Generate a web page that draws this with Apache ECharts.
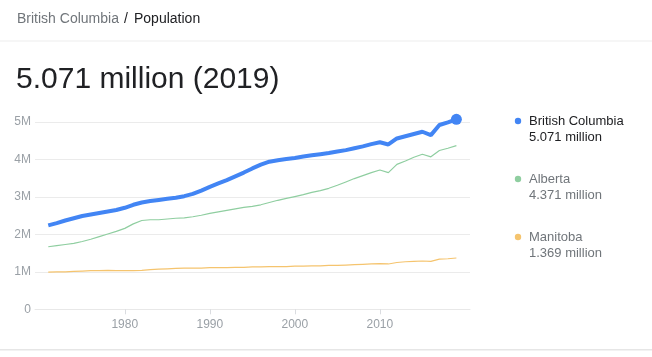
<!DOCTYPE html>
<html>
<head>
<meta charset="utf-8">
<script src="https://cdn.jsdelivr.net/npm/echarts@6/dist/echarts.min.js"></script>
<style>
html,body{margin:0;padding:0;background:#fff;}
#c{width:652px;height:357px;}
</style>
</head>
<body>
<div id="c"></div>
<script>
const years = [1971,1972,1973,1974,1975,1976,1977,1978,1979,1980,1981,1982,1983,1984,1985,1986,1987,1988,1989,1990,1991,1992,1993,1994,1995,1996,1997,1998,1999,2000,2001,2002,2003,2004,2005,2006,2007,2008,2009,2010,2011,2012,2013,2014,2015,2016,2017,2018,2019];
const britishColumbia = [2.24,2.30,2.37,2.43,2.49,2.53,2.57,2.61,2.65,2.71,2.79,2.85,2.89,2.92,2.95,2.98,3.02,3.08,3.17,3.27,3.36,3.45,3.55,3.65,3.76,3.86,3.94,3.98,4.01,4.04,4.08,4.11,4.14,4.17,4.21,4.25,4.30,4.35,4.41,4.46,4.40,4.56,4.62,4.68,4.74,4.65,4.92,4.99,5.071];
const alberta = [1.67,1.70,1.73,1.76,1.81,1.87,1.94,2.01,2.08,2.16,2.28,2.37,2.39,2.39,2.41,2.43,2.44,2.47,2.51,2.56,2.60,2.64,2.68,2.72,2.75,2.79,2.85,2.91,2.96,3.01,3.06,3.12,3.17,3.23,3.31,3.40,3.49,3.57,3.65,3.72,3.65,3.87,3.96,4.06,4.14,4.07,4.24,4.30,4.371];
const manitoba = [0.99,1.00,1.00,1.01,1.02,1.03,1.03,1.04,1.03,1.03,1.03,1.04,1.06,1.07,1.08,1.09,1.10,1.10,1.10,1.11,1.11,1.11,1.12,1.12,1.13,1.13,1.14,1.14,1.14,1.15,1.15,1.16,1.16,1.17,1.17,1.18,1.19,1.20,1.21,1.22,1.21,1.25,1.27,1.28,1.29,1.28,1.34,1.35,1.369];
const seriesNames = ['British Columbia','Alberta','Manitoba'];
const xTickYears = [1980,1990,2000,2010];
const yTicks = [0,1,2,3,4,5];
const headerPlace = 'British Columbia';
const headerTopic = 'Population';
const headlineYear = 2019;

const FONT = '"Liberation Sans", Arial, sans-serif';
const colors = ['#4285f4','#8fcea0','#f5c46e'];
const pair = arr => arr.map((v,i)=>[years[i], v]);
const last = arr => arr[arr.length-1];
const allSeries = [britishColumbia, alberta, manitoba];

const chart = echarts.init(document.getElementById('c'), null, {renderer:'canvas'});

const legendTop = [121, 179, 237];
const legendGraphics = [];
seriesNames.forEach((n,i)=>{
  const dark = i===0;
  legendGraphics.push({type:'circle', shape:{cx:518, cy:legendTop[i], r:3.2}, style:{fill:colors[i]}});
  legendGraphics.push({type:'text', x:529, y:legendTop[i]+0.5, style:{text:n, font:'13px '+FONT, fill: dark?'#202124':'#70757a', verticalAlign:'middle'}});
  legendGraphics.push({type:'text', x:529, y:legendTop[i]+16.5, style:{text:last(allSeries[i]).toFixed(3)+' million', font:'13px '+FONT, fill: dark?'#202124':'#70757a', verticalAlign:'middle'}});
});

const option = {
  animation:false,
  backgroundColor:'#fff',
  grid:{left:35, right:182, top:122, bottom:47.7, containLabel:false},
  xAxis:{
    type:'value', min:1969.44, max:2020.6,
    splitLine:{show:false},
    axisLine:{show:true, lineStyle:{color:'#e8e8e8', width:1}},
    axisTick:{show:true, customValues:xTickYears, length:5, lineStyle:{color:'#dadce0'}},
    axisLabel:{customValues:xTickYears, color:'#9aa0a6', fontSize:12, fontFamily:FONT, margin:9, formatter:v=>String(Math.round(v))},
  },
  yAxis:{
    type:'value', min:yTicks[0], max:yTicks[yTicks.length-1], interval:1,
    axisLine:{show:false}, axisTick:{show:false},
    splitLine:{lineStyle:{color:'#ebebeb', width:1}},
    axisLabel:{color:'#9aa0a6', fontSize:12, fontFamily:FONT, margin:4, formatter:v=> v===0?'0':v+'M'}
  },
  series:[
    {name:seriesNames[2], type:'line', data:pair(manitoba), symbol:'none', lineStyle:{color:colors[2], width:1.2}, z:2},
    {name:seriesNames[1], type:'line', data:pair(alberta), symbol:'none', lineStyle:{color:colors[1], width:1.2}, z:3},
    {name:seriesNames[0], type:'line', data:pair(britishColumbia), symbol:'none', lineStyle:{color:colors[0], width:4}, z:4, clip:false},
    {name:seriesNames[0]+' end', type:'scatter', data:[[last(years), last(britishColumbia)]], symbol:'circle', symbolSize:11, itemStyle:{color:colors[0], opacity:1}, z:5, clip:false}
  ],
  graphic:[
    {type:'text', x:17, y:19.5, style:{text:headerPlace, font:'14px '+FONT, fill:'#70757a', verticalAlign:'middle'}},
    {type:'text', x:124, y:19.5, style:{text:'/', font:'14px '+FONT, fill:'#202124', verticalAlign:'middle'}},
    {type:'text', x:134, y:19.5, style:{text:headerTopic, font:'14px '+FONT, fill:'#202124', verticalAlign:'middle'}},
    {type:'rect', shape:{x:0, y:40.5, width:652, height:1}, style:{fill:'#ededed'}},
    {type:'text', x:16, y:79.5, style:{text:last(britishColumbia).toFixed(3)+' million ('+headlineYear+')', font:'30px '+FONT, fill:'#202124', verticalAlign:'middle'}},
    {type:'rect', shape:{x:0, y:349, width:652, height:1.5}, style:{fill:'#e6e6e6'}},
    ...legendGraphics
  ]
};
chart.setOption(option);
</script>
</body>
</html>
